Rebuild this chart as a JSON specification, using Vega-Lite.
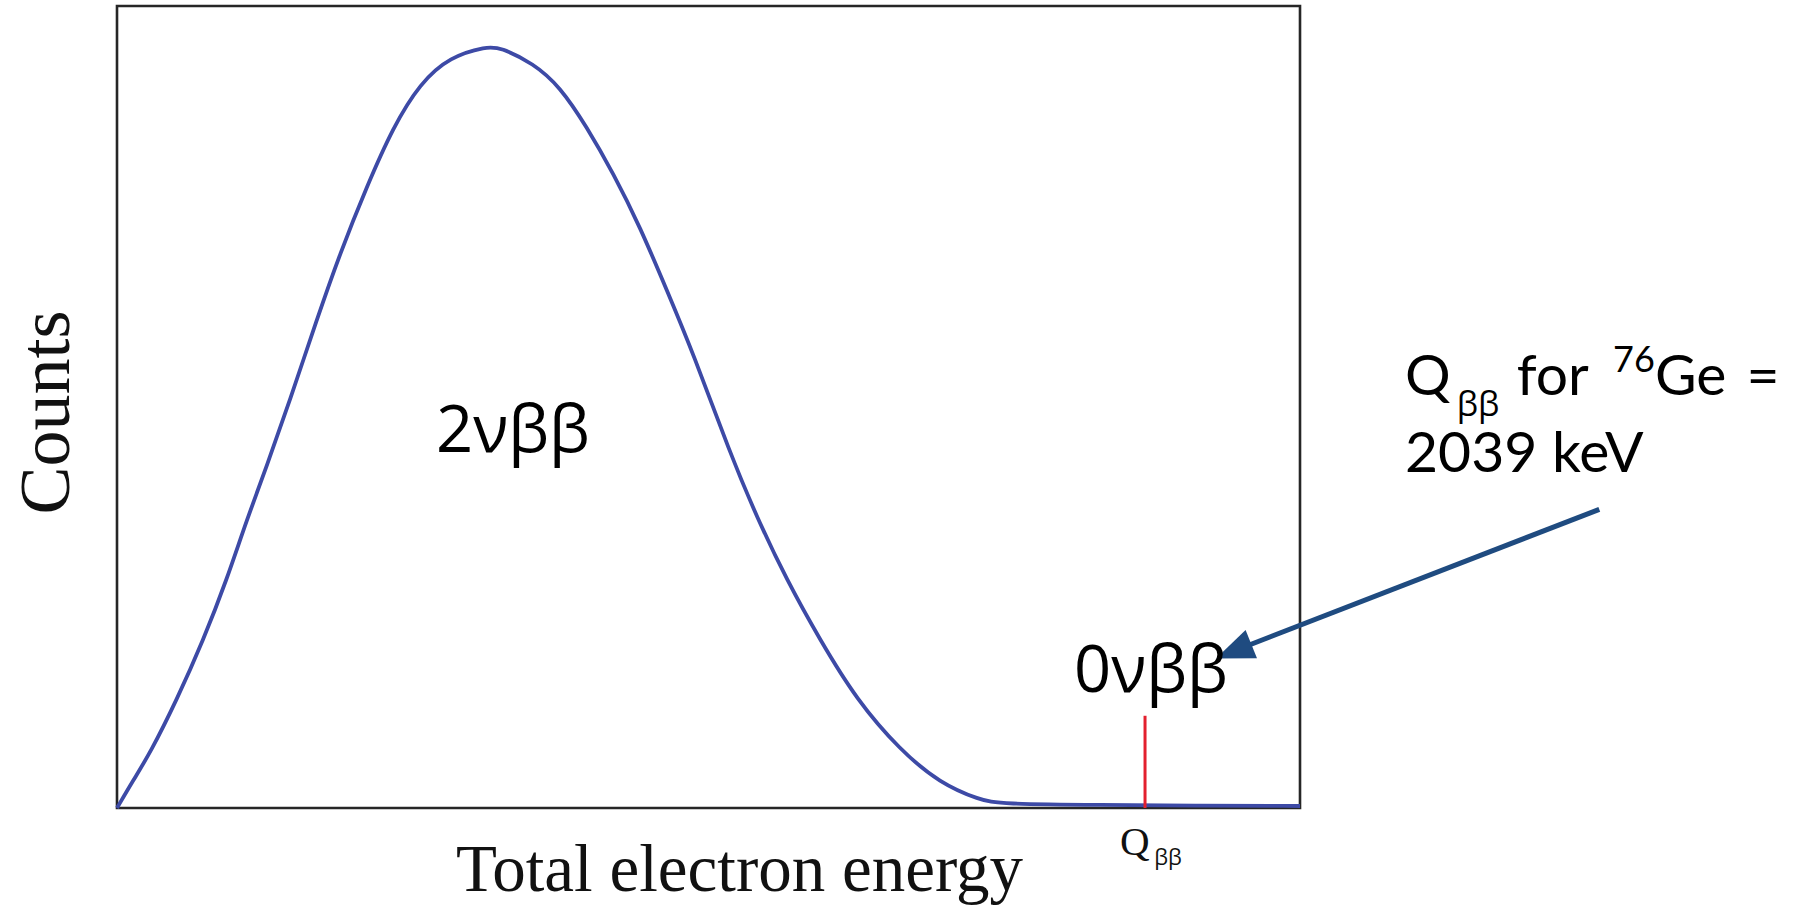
{
  "$schema": "https://vega.github.io/schema/vega-lite/v6.json",
  "autosize": {"type": "none"},
  "width": 1183,
  "height": 802,
  "padding": {"left": 117, "top": 6, "right": 512, "bottom": 98},
  "background": "white",
  "config": {"view": {"stroke": "#262626", "strokeWidth": 2.6}},
  "encoding": {
    "x": {"field": "x", "type": "quantitative", "scale": {"domain": [0, 1], "nice": false, "zero": false},
      "axis": {"title": "Total electron energy", "titleFont": "Liberation Serif", "titleFontSize": 67, "titleFontWeight": "normal",
        "titleColor": "#111", "titleX": 622, "titleY": 82, "titleAlign": "center", "titleBaseline": "alphabetic",
        "labels": false, "ticks": false, "domain": false, "grid": false}},
    "y": {"field": "y", "type": "quantitative", "scale": {"domain": [0, 1], "nice": false, "zero": false},
      "axis": {"title": "Counts", "titleFont": "Liberation Serif", "titleFontSize": 72, "titleFontWeight": "normal",
        "titleColor": "#111", "titleX": -49, "titleY": 406, "titleAlign": "center", "titleBaseline": "alphabetic", "titleAngle": -90,
        "labels": false, "ticks": false, "domain": false, "grid": false}}
  },
  "layer": [
    {
      "data": {"values": [
        {"x": 0, "y": 0}, {"x": 0.0138, "y": 0.0349}, {"x": 0.0279, "y": 0.0682}, {"x": 0.0505, "y": 0.1347},
        {"x": 0.073, "y": 0.2095}, {"x": 0.0927, "y": 0.2843}, {"x": 0.1096, "y": 0.3591}, {"x": 0.1265, "y": 0.4256},
        {"x": 0.1462, "y": 0.5087}, {"x": 0.1688, "y": 0.6085}, {"x": 0.1885, "y": 0.6916}, {"x": 0.2111, "y": 0.7747},
        {"x": 0.2336, "y": 0.8495}, {"x": 0.2561, "y": 0.9036}, {"x": 0.2815, "y": 0.9368}, {"x": 0.3125, "y": 0.9495},
        {"x": 0.3238, "y": 0.9485}, {"x": 0.3519, "y": 0.9286}, {"x": 0.3745, "y": 0.8994}, {"x": 0.397, "y": 0.8495},
        {"x": 0.4195, "y": 0.7914}, {"x": 0.4421, "y": 0.7248}, {"x": 0.4647, "y": 0.6459}, {"x": 0.4871, "y": 0.567},
        {"x": 0.5182, "y": 0.4423}, {"x": 0.5407, "y": 0.3632}, {"x": 0.5661, "y": 0.2843}, {"x": 0.5943, "y": 0.2095},
        {"x": 0.6253, "y": 0.1347}, {"x": 0.6619, "y": 0.0723}, {"x": 0.6957, "y": 0.0308}, {"x": 0.7295, "y": 0.01},
        {"x": 0.7464, "y": 0.005}, {"x": 0.831, "y": 0.0037}, {"x": 0.9155, "y": 0.003}, {"x": 1.0, "y": 0.0025}
      ]},
      "mark": {"type": "line", "interpolate": "basis", "color": "#3d4aa6", "strokeWidth": 3.8}
    },
    {
      "data": {"values": [{"x": 0.869, "y": 0, "y2": 0.115}]},
      "mark": {"type": "rule", "color": "#e3202e", "strokeWidth": 3},
      "encoding": {"y2": {"field": "y2"}}
    },
    {
      "data": {"values": [{"x": 1.253, "y": 0.3724, "x2": 0.9582, "y2": 0.2039}]},
      "mark": {"type": "rule", "color": "#1f4b80", "strokeWidth": 5},
      "encoding": {"x2": {"field": "x2"}, "y2": {"field": "y2"}}
    },
    {
      "data": {"values": [{"x": 0.9439, "y": 0.1953}]},
      "mark": {"type": "point", "shape": "M0,-1L0.8,1L-0.8,1Z", "size": 1450, "angle": 248, "filled": true, "color": "#1f4b80", "opacity": 1}
    },
    {
      "data": {"values": [{"x": 0.3347, "y": 0.444, "text": "2νββ"}, {"x": 0.874, "y": 0.145, "text": "0νββ"}]},
      "mark": {"type": "text", "font": "Open Sans", "fontSize": 65, "color": "#000", "align": "center", "baseline": "alphabetic"},
      "encoding": {"text": {"field": "text"}}
    },
    {
      "data": {"values": [{"x": 0.8478, "y": -0.0586, "text": "Q"}]},
      "mark": {"type": "text", "font": "Liberation Serif", "fontSize": 41, "color": "#111", "align": "left", "baseline": "alphabetic"},
      "encoding": {"text": {"field": "text"}}
    },
    {
      "data": {"values": [{"x": 0.8768, "y": -0.0711, "text": "ββ"}]},
      "mark": {"type": "text", "font": "Open Sans", "fontSize": 22, "color": "#111", "align": "left", "baseline": "alphabetic"},
      "encoding": {"text": {"field": "text"}}
    },
    {
      "data": {"values": [
        {"x": 1.0888, "y": 0.515, "text": "Q"},
        {"x": 1.1832, "y": 0.515, "text": "for"},
        {"x": 1.3001, "y": 0.515, "text": "Ge"},
        {"x": 1.3775, "y": 0.515, "text": "="},
        {"x": 1.0888, "y": 0.4193, "text": "2039 keV"}
      ]},
      "mark": {"type": "text", "font": "Lato", "fontSize": 57, "color": "#000", "align": "left", "baseline": "alphabetic"},
      "encoding": {"text": {"field": "text"}}
    },
    {
      "data": {"values": [{"x": 1.1325, "y": 0.4885, "text": "ββ"}]},
      "mark": {"type": "text", "font": "Open Sans", "fontSize": 34, "color": "#000", "align": "left", "baseline": "alphabetic"},
      "encoding": {"text": {"field": "text"}}
    },
    {
      "data": {"values": [{"x": 1.2646, "y": 0.544, "text": "76"}]},
      "mark": {"type": "text", "font": "Lato", "fontSize": 36, "color": "#000", "align": "left", "baseline": "alphabetic"},
      "encoding": {"text": {"field": "text"}}
    }
  ]
}
